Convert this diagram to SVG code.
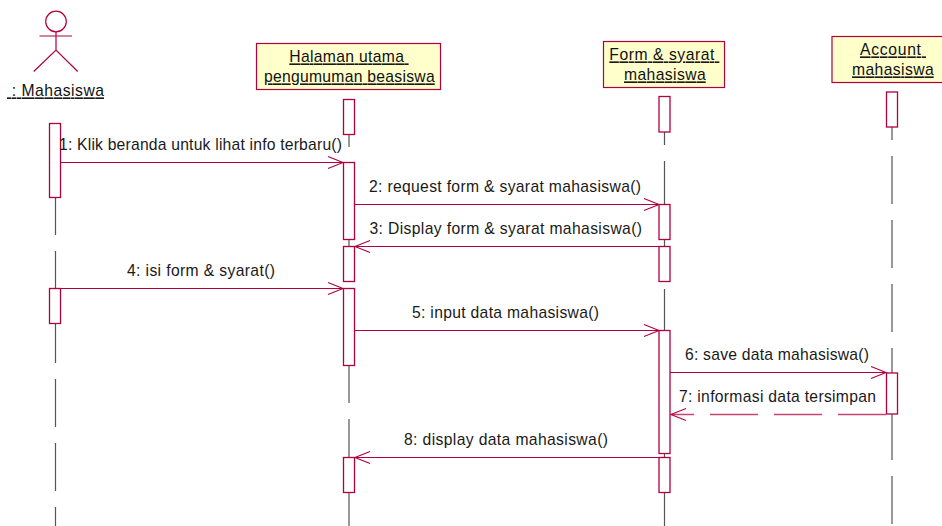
<svg xmlns="http://www.w3.org/2000/svg" width="942" height="526" viewBox="0 0 942 526">
<style>
text{font-family:"Liberation Sans",Arial,sans-serif;font-size:15.7px;fill:#1a1a1a;white-space:pre}
.u{text-decoration:underline;text-decoration-thickness:1.6px;text-underline-offset:1px;fill:#111}
.box{fill:#ffffcc;stroke:#b2003c;stroke-width:1.2}
.act{fill:#fff;stroke:#b2003c;stroke-width:1.3}
.life{stroke:#555;stroke-width:1.2;stroke-dasharray:48 16;fill:none}
.msg{stroke:#b2003c;stroke-width:1.1;fill:none}
.dash{stroke-dasharray:48 16;stroke-width:1.3;stroke:#c4446f}
.actor{stroke:#b2003c;stroke-width:1.2;fill:none}
</style>
<defs>
<marker id="open" markerUnits="userSpaceOnUse" markerWidth="18" markerHeight="16" refX="16" refY="7" orient="auto"><path d="M1 1 L16 7 L1 13" fill="none" stroke="#b2003c" stroke-width="1.1"/></marker>
</defs>
<g id="lifelines">
<path class="life" d="M55.5 123V526"/>
<path class="life" d="M349 99V526"/>
<path class="life" d="M664.5 97V526"/>
<path class="life" d="M892 92V526"/>
</g>
<g id="actor-mahasiswa">
<circle class="actor" cx="56" cy="21.5" r="10.3"/>
<path class="actor" d="M56 32V50M39.5 36H72M33.7 71.5L56 50L77.7 71.5"/>
<text x="7" y="96.4" class="u" textLength="97"> : Mahasiswa</text>
</g>
<g id="node-halaman">
<rect class="box" x="256.5" y="43.5" width="184" height="46"/>
<text x="289.3" y="62.4" class="u" textLength="119.3">Halaman utama </text>
<text x="264" y="82.4" class="u" textLength="170.7">pengumuman beasiswa</text>
</g>
<g id="node-form">
<rect class="box" x="603.5" y="41.5" width="121" height="46"/>
<text x="609.3" y="60.4" class="u" textLength="110">Form &amp; syarat </text>
<text x="624" y="80.4" class="u" textLength="81.7">mahasiswa</text>
</g>
<g id="node-account">
<rect class="box" x="832" y="36.5" width="120" height="46"/>
<text x="860" y="55.4" class="u" textLength="66">Account </text>
<text x="852" y="75.4" class="u" textLength="81.7">mahasiswa</text>
</g>
<g id="activations">
<rect class="act" x="49.5" y="123.5" width="11" height="74"/>
<rect class="act" x="49.5" y="288.5" width="11" height="35"/>
<rect class="act" x="343.5" y="99.5" width="11" height="35"/>
<rect class="act" x="343.5" y="162.5" width="11" height="77"/>
<rect class="act" x="343.5" y="246.5" width="11" height="35"/>
<rect class="act" x="343.5" y="288.5" width="11" height="77"/>
<rect class="act" x="343.5" y="457.5" width="11" height="35"/>
<rect class="act" x="659" y="96.5" width="11" height="35.5"/>
<rect class="act" x="659" y="204.5" width="11" height="35"/>
<rect class="act" x="659" y="246.5" width="11" height="35"/>
<rect class="act" x="659" y="330.5" width="11" height="123"/>
<rect class="act" x="659" y="457.5" width="11" height="35"/>
<rect class="act" x="886.5" y="92" width="11" height="35"/>
<rect class="act" x="886.5" y="373" width="11" height="41"/>
</g>
<g id="connectors">
<path class="msg" marker-end="url(#open)" d="M61 162.5H343"/>
<path class="msg" marker-end="url(#open)" d="M355 204.5H659"/>
<path class="msg" marker-end="url(#open)" d="M659 246.5H355"/>
<path class="msg" marker-end="url(#open)" d="M61 288.5H343"/>
<path class="msg" marker-end="url(#open)" d="M355 330.5H659"/>
<path class="msg" marker-end="url(#open)" d="M670 372.5H886"/>
<path class="msg dash" marker-end="url(#open)" d="M886 414.5H671"/>
<path class="msg" marker-end="url(#open)" d="M659 457.5H355"/>
</g>
<g id="labels">
<text x="59" y="150.4" textLength="283">1: Klik beranda untuk lihat info terbaru()</text>
<text x="369" y="192.4" textLength="272">2: request form &amp; syarat mahasiswa()</text>
<text x="369.5" y="234.4" textLength="272.5">3: Display form &amp; syarat mahasiswa()</text>
<text x="127" y="276.4" textLength="148">4: isi form &amp; syarat()</text>
<text x="412" y="318.4" textLength="187">5: input data mahasiswa()</text>
<text x="685" y="360.4" textLength="184">6: save data mahasiswa()</text>
<text x="679" y="402.4" textLength="197">7: informasi data tersimpan</text>
<text x="404" y="445.4" textLength="204">8: display data mahasiswa()</text>
</g>
</svg>
